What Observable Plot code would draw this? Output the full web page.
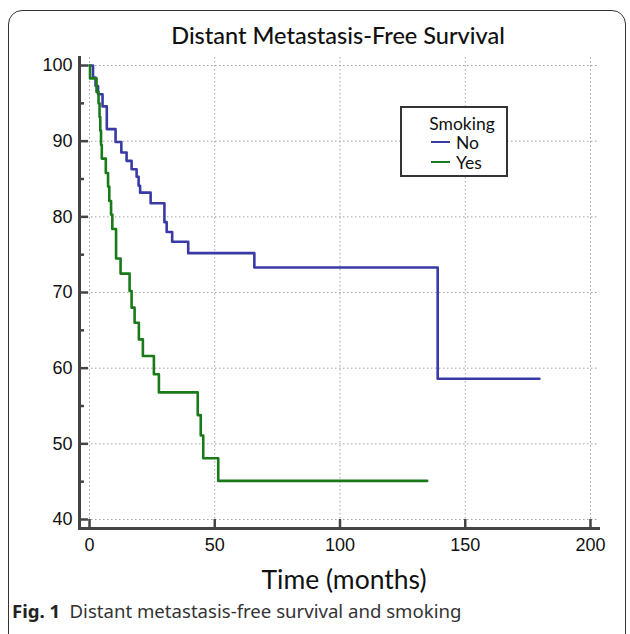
<!DOCTYPE html>
<html><head><meta charset="utf-8">
<script src="https://cdn.jsdelivr.net/npm/d3@7"></script>
<script src="https://cdn.jsdelivr.net/npm/@observablehq/plot@0.6"></script>
<style>
body{margin:0;background:#fff;}
#wrap{position:relative;width:630px;height:634px;overflow:hidden;background:#fff;}
#wrap svg{position:absolute;left:0;top:0;}
.abs{position:absolute;white-space:nowrap;line-height:1;}
</style></head><body>
<div id="wrap"></div>
<script>
// Kaplan-Meier steps
const noTime = [0, 1.4, 2.4, 3.4, 5.2, 6.9, 10.4, 12.7, 14.8, 16.8, 18.8, 19.6, 20.2, 24.4, 29.9, 30.8, 33.0, 39.4, 65.8, 139.0, 179.6];
const noSurv = [100, 98.4, 97.3, 96.2, 94.6, 91.6, 89.9, 88.5, 87.4, 86.3, 85.3, 84.1, 83.2, 81.8, 79.3, 78.0, 76.7, 75.2, 73.3, 58.6, 58.6];
const yesTime = [0, 0.2, 2.8, 3.6, 4.0, 4.3, 4.6, 4.9, 6.5, 7.4, 7.9, 8.6, 9.1, 10.6, 12.4, 16.0, 16.8, 18.0, 19.7, 21.3, 25.7, 27.7, 43.2, 44.4, 45.4, 51.4, 134.8];
const yesSurv = [100, 98.3, 96.5, 95.0, 93.2, 91.4, 89.5, 87.7, 85.8, 84.0, 82.1, 80.3, 78.4, 74.5, 72.5, 70.2, 68.0, 66.0, 63.8, 61.6, 59.2, 56.8, 53.8, 51.1, 48.1, 45.1, 45.1];
const groups = ["No", "Yes"];
const groupColors = ["#3a3aa6", "#1a7a1a"];
const xTicks = [0, 50, 100, 150, 200];
const yTicks = [40, 50, 60, 70, 80, 90, 100];
const yMinor = [45, 55, 65, 75, 85, 95];
const titleText = "Distant Metastasis-Free Survival";
const xLabel = "Time (months)";
const legendTitle = "Smoking";
const captionBold = "Fig. 1";
const captionText = "Distant metastasis-free survival and smoking";

const rows = [
  ...noTime.map((t, i) => ({group: "No", time: t, surv: noSurv[i]})),
  ...yesTime.map((t, i) => ({group: "Yes", time: t, surv: yesSurv[i]}))
];

const axisColor = "#444";
const chart = Plot.plot({
  width: 630, height: 600,
  marginLeft: 79, marginRight: 32, marginTop: 57, marginBottom: 72,
  x: {domain: [-4, 203.2]},
  y: {domain: [38.81, 101.06]},
  color: {domain: groups, range: groupColors},
  style: {fontFamily: "'Liberation Sans', Arial, sans-serif", fontSize: "18px", color: "#111", background: "transparent"},
  marks: [
    Plot.gridX(xTicks, {stroke: "#a0a0a0", strokeOpacity: 1, strokeDasharray: "1.5,2.5", strokeWidth: 1}),
    Plot.gridY(yTicks, {stroke: "#a0a0a0", strokeOpacity: 1, strokeDasharray: "1.5,2.5", strokeWidth: 1}),
    Plot.axisY(yTicks, {tickSize: 0, tickPadding: 7, label: null, fontSize: 18}),
    Plot.axisY(yTicks, {tickSize: 9, dx: 9, tickFormat: () => "", label: null, stroke: axisColor, strokeWidth: 2.5}),
    Plot.axisY(yMinor, {tickSize: 5, dx: 5, tickFormat: () => "", label: null, stroke: axisColor, strokeWidth: 2.5}),
    Plot.axisX(xTicks, {tickSize: 0, tickPadding: 10, label: null, fontSize: 18}),
    Plot.axisX(xTicks, {tickSize: 9, dy: -9, tickFormat: () => "", label: null, stroke: axisColor, strokeWidth: 2.5}),
    Plot.frame({anchor: "left", stroke: axisColor, strokeWidth: 3}),
    Plot.frame({anchor: "bottom", stroke: axisColor, strokeWidth: 3}),
    Plot.line(rows, {x: "time", y: "surv", z: "group", stroke: "group", curve: "step-after", strokeWidth: 2.6})
  ]
});

const wrap = document.getElementById("wrap");
wrap.appendChild(chart);

function addDiv(text, css) {
  const d = document.createElement("div");
  d.className = "abs";
  d.textContent = text;
  Object.assign(d.style, css);
  wrap.appendChild(d);
  return d;
}
// outer rounded border
const border = document.createElement("div");
Object.assign(border.style, {position: "absolute", left: "8px", top: "10px", width: "618px", height: "640px",
  border: "1.3px solid #333", borderRadius: "14px", boxSizing: "border-box"});
wrap.appendChild(border);

// title
addDiv(titleText, {left: "0px", width: "676px", textAlign: "center", top: "24px", fontFamily: "Lato", fontSize: "23.5px", color: "#111", fontWeight: "500"});
// x label
addDiv(xLabel, {left: "0px", width: "688px", textAlign: "center", top: "566px", fontFamily: "Lato", fontSize: "26.5px", color: "#111"});

// legend
const lg = document.createElement("div");
Object.assign(lg.style, {position: "absolute", left: "400px", top: "106px", width: "108px", height: "71px",
  border: "2.5px solid #333", boxSizing: "border-box", background: "#fff"});
wrap.appendChild(lg);
addDiv(legendTitle, {left: "412px", width: "100px", textAlign: "center", top: "114.5px", height: "16px", fontFamily: "Lato", fontSize: "17.5px", color: "#111"});
groups.forEach((g, i) => {
  const y = 142 + i * 20;
  const sw = document.createElement("div");
  Object.assign(sw.style, {position: "absolute", left: "431px", top: (y - 1.2) + "px", width: "19px", height: "2.4px", background: groupColors[i]});
  wrap.appendChild(sw);
  addDiv(g, {left: "456px", top: (y - 8.5) + "px", height: "16px", fontFamily: "Lato", fontSize: "17.5px", color: "#111"});
});

// caption
const cap = document.createElement("div");
cap.className = "abs";
Object.assign(cap.style, {left: "12px", top: "602px", fontFamily: "'Noto Sans'", fontSize: "18.6px", color: "#333"});
const b = document.createElement("b");
b.textContent = captionBold;
b.style.color = "#222";
cap.appendChild(b);
cap.appendChild(document.createTextNode("\u2002" + captionText));
wrap.appendChild(cap);
</script>
</body></html>
